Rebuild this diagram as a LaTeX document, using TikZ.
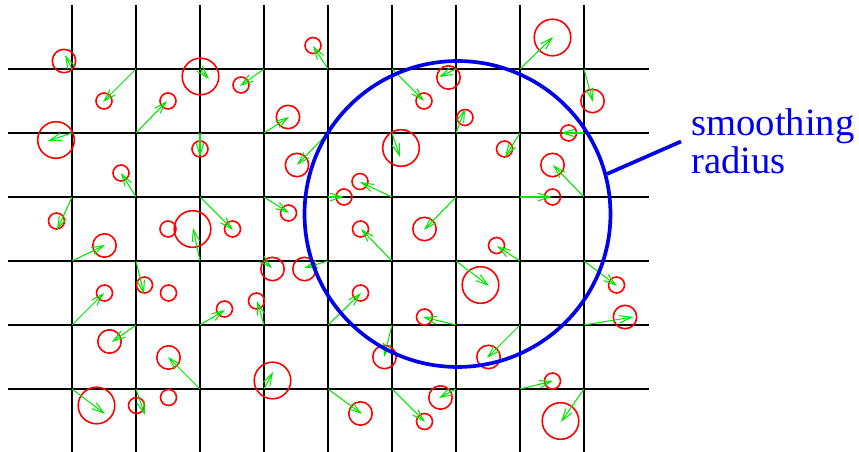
\documentclass[tikz,border=0pt]{standalone}
\usepackage{fontspec}
\setmainfont{Liberation Serif}
\usetikzlibrary{arrows.meta}
\definecolor{vecgreen}{RGB}{0,230,0}
\definecolor{kernelblue}{RGB}{0,0,235}

\begin{document}
\begin{tikzpicture}[
        x=0.02cm, y=-0.02cm,
        cellline/.style={black, line width=0.6pt},
        particle/.style={draw=red, line width=0.9pt},
        weight/.style={draw=vecgreen, line width=0.6pt, -{Straight Barb[length=2.4mm, width=1.5mm]}},
        kernel/.style={draw=kernelblue, line width=2.1pt, circle, minimum size=6.12cm, inner sep=0pt},
        note/.style={text=kernelblue, font=\fontsize{22pt}{21.6pt}\selectfont, align=left, inner xsep=0.2cm, inner ysep=0pt}
    ]
    \useasboundingbox (0,0) rectangle (859,452);

    \foreach \gx in {72,136,...,584} \draw[cellline] (\gx,5) -- (\gx,452);
    \foreach \gy in {69,133,...,389} \draw[cellline] (8,\gy) -- (649,\gy);

    \foreach \cx/\cy/\r in {64/61/11.7, 104/101/8, 200.5/76.5/18.3, 56/140/18.3, 168/101/8, 200/149/8,
            313/45.5/8, 241/85/8, 288/117/11.7, 401/148/18.3, 297/165/11.7, 424/101/8, 448.5/77.5/11.7,
            465/117.5/8, 552.5/37.5/18.3, 592.5/101/11.7, 568.5/133/8, 504.5/149/8, 121/173/8, 56.5/221/8,
            104.5/245.5/11.7, 168/229/8, 192.5/229/18.3, 144.5/285/8, 168.5/293/8, 104.5/293/8, 232.5/229/8,
            288.5/213/8, 344/197/8, 360/181.5/8, 360.5/229/8, 272.5/269/11.7, 304.5/269/11.7, 256.5/301/8,
            224.5/309/8, 360.5/293/8, 552.5/165/11.7, 552.5/197/8, 424.5/229/11.7, 496.5/245.5/8,
            480.5/285/18.3, 616.5/285/8, 424.5/317/8, 625/317/11.7, 488.5/357/11.7, 552.5/381/8,
            440.5/397.5/11.7, 424.5/421.5/8, 560.5/421/18.3, 384.5/357/11.7, 272.5/380.5/18.3,
            360.5/413.5/11.7, 109.5/341.5/11.7, 168.5/357.5/11.7, 96.5/405.5/18.3, 136.5/405.5/8, 168.5/397.5/8}
        \draw[particle] (\cx,\cy) circle[radius=\r*0.02cm];

    \foreach \gx/\gy/\tx/\ty in {72/69/65/55, 136/69/103/102, 200/69/209/79, 264/69/240/86, 328/69/313/46,
            392/69/424/101, 456/69/439/77, 520/69/553/37, 584/69/593/102,
            72/133/48/141, 136/133/167/101, 200/133/200/157, 264/133/289/117, 328/133/297/165,
            392/133/400/157, 456/133/465/109, 520/133/505/157, 584/133/561/133,
            72/197/57/230, 136/197/121/173, 200/197/233/230, 264/197/289/213, 328/197/344/197,
            392/197/360/182, 456/197/424/230, 520/197/552/197, 584/197/553/165,
            72/261/105/245, 136/261/144/294, 200/261/193/228, 264/261/272/268, 328/261/304/268,
            392/261/361/229, 456/261/489/286, 520/261/497/246, 584/261/617/286,
            72/325/104/293, 136/325/112/342, 200/325/225/310, 264/325/257/301, 328/325/361/293,
            392/325/384/357, 456/325/423/317, 520/325/487/358, 584/325/633/317,
            72/389/105/414, 136/389/145/415, 200/389/168/357, 264/389/273/372, 328/389/362/414,
            392/389/425/422, 456/389/439/398, 520/389/553/381, 584/389/561/422}
        \draw[weight] (\gx,\gy) -- (\tx,\ty);

    \node[kernel] (kernel) at (457.5,214) {};
    \node[note, anchor=west] (radius) at (681,141.5) {smoothing\\radius};
    \draw[kernelblue, line width=2.1pt] (kernel.15) -- (radius.west);
\end{tikzpicture}
\end{document}
